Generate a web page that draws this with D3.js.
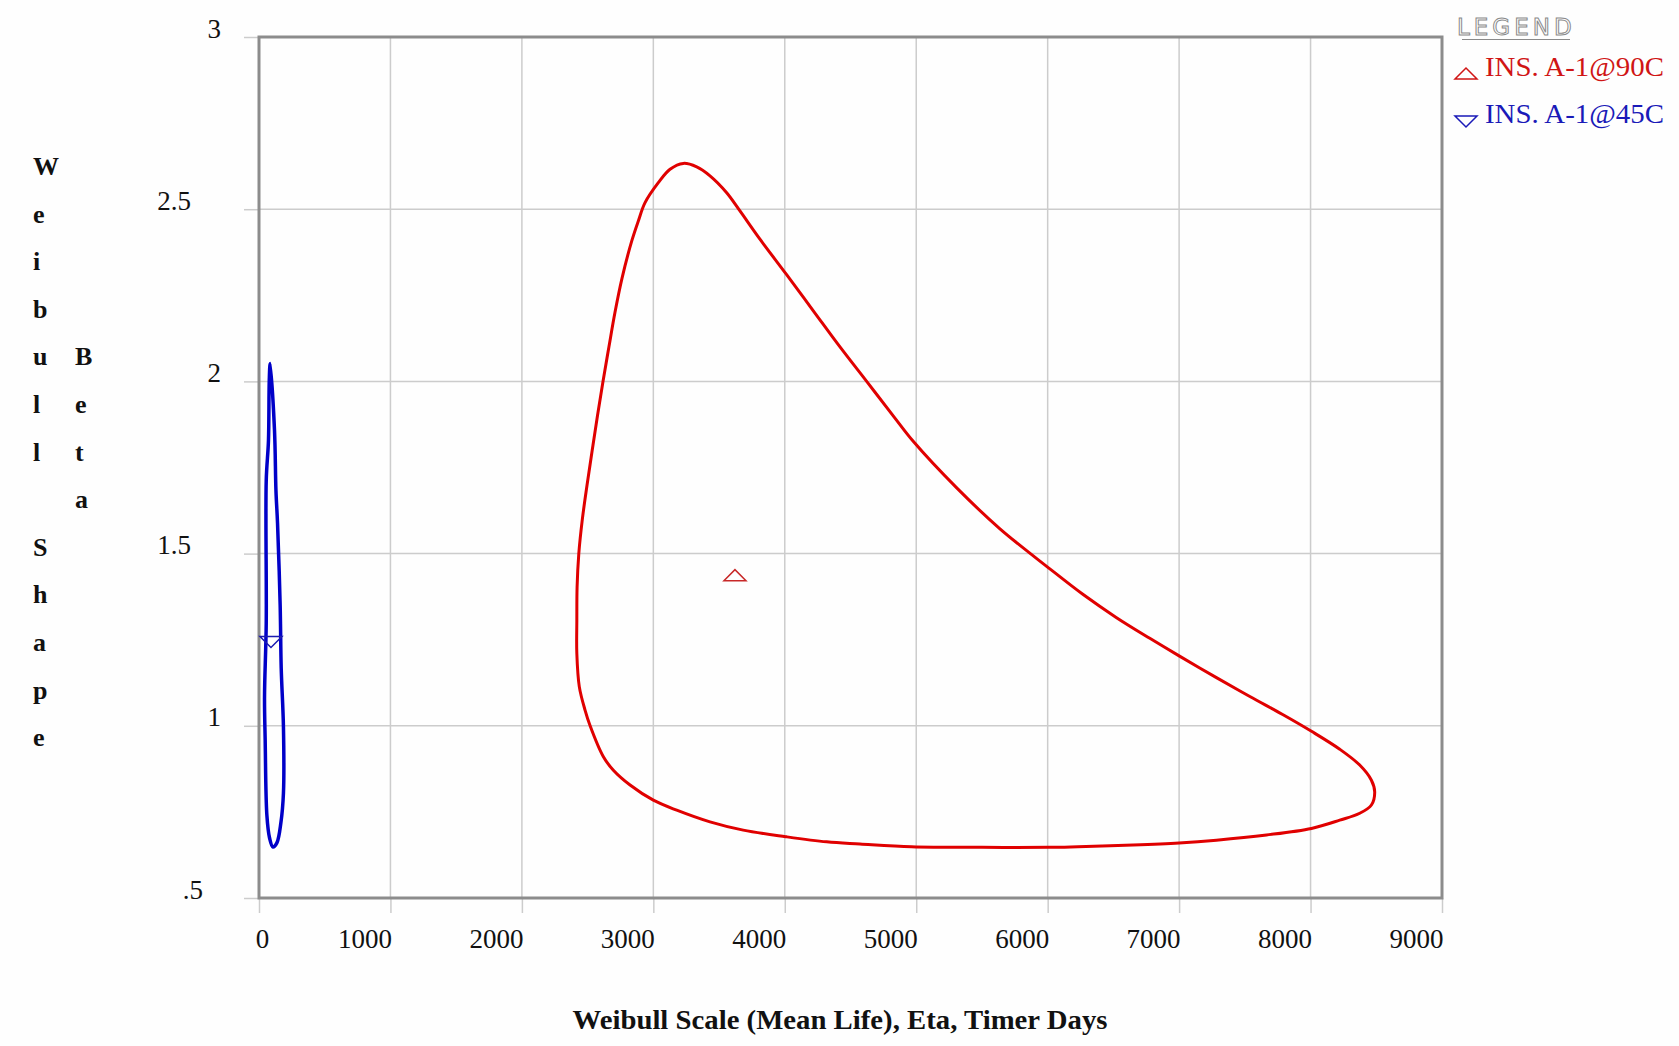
<!DOCTYPE html>
<html>
<head>
<meta charset="utf-8">
<script src="https://cdn.jsdelivr.net/npm/d3@7"></script>
<style>
  body { margin: 0; background: #fff; }
  text { font-family: "Liberation Serif", "Times New Roman", serif; }
</style>
</head>
<body>
<div id="chart"></div>
<script>
// axis ticks
const xTicks = [0, 1000, 2000, 3000, 4000, 5000, 6000, 7000, 8000, 9000];
const yTicks = [0.5, 1, 1.5, 2, 2.5, 3];
const yTickLabels = ['.5', '1', '1.5', '2', '2.5', '3'];

const seriesNames = ['INS. A-1@90C', 'INS. A-1@45C'];

// contour for 90C (eta, beta), read clockwise from the top
const hotEta = [3228, 3330, 3431, 3558, 3659, 3811, 4014, 4217, 4420, 4623, 4825, 4977, 5310,
  5637, 6009, 6270, 6524, 6777, 7000, 7284, 7538, 7791, 8007, 8222, 8374, 8463, 8488, 8463,
  8374, 8222, 8007, 7665, 7284, 7000, 6650, 6230, 6009, 5500, 4965, 4572, 4319, 4007, 3684,
  3431, 3178, 3000, 2823, 2696, 2620, 2519, 2481, 2437, 2418, 2418, 2420, 2433, 2460, 2496,
  2535, 2575, 2617, 2662, 2708, 2762, 2836, 2886, 2937, 3038, 3127];
const hotBeta = [2.633, 2.623, 2.597, 2.548, 2.495, 2.413, 2.310, 2.205, 2.100, 2.000, 1.900, 1.826, 1.690,
  1.572, 1.458, 1.381, 1.314, 1.254, 1.203, 1.140, 1.085, 1.032, 0.984, 0.932, 0.886, 0.842, 0.808, 0.770,
  0.746, 0.726, 0.702, 0.683, 0.668, 0.660, 0.654, 0.649, 0.647, 0.647, 0.649, 0.657, 0.663, 0.678, 0.697,
  0.721, 0.755, 0.784, 0.828, 0.871, 0.910, 1.000, 1.045, 1.113, 1.210, 1.306, 1.403, 1.500, 1.600, 1.700,
  1.800, 1.900, 2.000, 2.100, 2.200, 2.300, 2.408, 2.466, 2.519, 2.577, 2.616];

// contour for 45C
const coldEta = [85, 118, 129, 141, 161, 169, 186, 186, 167, 136, 106, 80, 60, 47, 42, 55, 55, 72, 78];
const coldBeta = [2.052, 1.857, 1.683, 1.588, 1.350, 1.167, 0.996, 0.805, 0.720, 0.660, 0.648, 0.675,
  0.740, 0.958, 1.083, 1.298, 1.712, 1.828, 2.002];

// point estimates
const pointEta = [3621, 91];
const pointBeta = [1.436, 1.245];

const yTitleLeft = 'Weibull Shape';
const yTitleRight = 'Beta';

let svgWidth = 1679, svgHeight = 1046,
  plotLeft = 259, plotRight = 1442,
  plotTop = 37, plotBottom = 898,
  red = '#e00000', blue = '#0000c8',
  gridColor = '#cccccc', frameColor = '#8c8c8c';

const svg = d3.select('#chart')
  .append('svg')
  .attr('width', svgWidth)
  .attr('height', svgHeight);

svg.append('rect')
  .attr('width', svgWidth)
  .attr('height', svgHeight)
  .attr('fill', '#fefefe');

const x = d3.scaleLinear().domain([0, 9000]).range([plotLeft, plotRight]);
const y = d3.scaleLinear().domain([0.5, 3]).range([plotBottom, plotTop]);

// grid lines
svg.append('g')
  .selectAll('line')
  .data(xTicks.slice(1, -1))
  .join('line')
  .attr('x1', d => x(d)).attr('x2', d => x(d))
  .attr('y1', plotTop).attr('y2', plotBottom)
  .attr('stroke', gridColor).attr('stroke-width', 1.5);

svg.append('g')
  .selectAll('line')
  .data(yTicks.slice(1, -1))
  .join('line')
  .attr('x1', plotLeft).attr('x2', plotRight)
  .attr('y1', d => y(d)).attr('y2', d => y(d))
  .attr('stroke', gridColor).attr('stroke-width', 1.5);

// x axis
const xAxis = svg.append('g')
  .attr('transform', `translate(0, ${plotBottom})`)
  .call(d3.axisBottom(x).tickValues(xTicks).tickSize(15).tickFormat(d => String(d)));
xAxis.select('.domain').remove();
xAxis.selectAll('line').attr('stroke', gridColor).attr('stroke-width', 1.5);
xAxis.selectAll('text')
  .attr('font-size', 27)
  .attr('fill', '#111')
  .attr('dy', null)
  .attr('y', 50)
  .attr('text-anchor', d => d === 0 ? 'middle' : 'end')
  .attr('x', d => d === 0 ? 3 : 1);

// y axis
const yAxis = svg.append('g')
  .attr('transform', `translate(${plotLeft}, 0)`)
  .call(d3.axisLeft(y).tickValues(yTicks).tickSize(15).tickFormat((d, i) => yTickLabels[i]));
yAxis.select('.domain').remove();
yAxis.selectAll('line').attr('stroke', gridColor).attr('stroke-width', 1.5);
yAxis.selectAll('text')
  .attr('font-size', 27)
  .attr('fill', '#111')
  .attr('dy', null)
  .attr('y', 0)
  .attr('text-anchor', 'end')
  .attr('x', (d, i) => {
    const s = yTickLabels[i];
    if (s[0] === '.') return -56;
    return s.includes('.') ? -68 : -38;
  });

// plot frame
svg.append('rect')
  .attr('x', plotLeft).attr('y', plotTop)
  .attr('width', plotRight - plotLeft).attr('height', plotBottom - plotTop)
  .attr('fill', 'none')
  .attr('stroke', frameColor)
  .attr('stroke-width', 3);

// contours
const contour = d3.line()
  .x(d => x(d[0]))
  .y(d => y(d[1]))
  .curve(d3.curveCatmullRomClosed);

svg.append('path')
  .datum(hotEta.map((e, i) => [e, hotBeta[i]]))
  .attr('d', contour)
  .attr('fill', 'none')
  .attr('stroke', red)
  .attr('stroke-width', 3);

svg.append('path')
  .datum(coldEta.map((e, i) => [e, coldBeta[i]]))
  .attr('d', contour)
  .attr('fill', 'none')
  .attr('stroke', blue)
  .attr('stroke-width', 3.5);

// point estimate markers
const upTri = 'M-11,5L11,5L0,-6Z';
const downTri = 'M-11,-5L11,-5L0,6Z';

svg.append('path')
  .attr('d', upTri)
  .attr('transform', `translate(${x(pointEta[0])}, ${y(pointBeta[0])})`)
  .attr('fill', 'none')
  .attr('stroke', '#c82828')
  .attr('stroke-width', 1.5);

svg.append('path')
  .attr('d', downTri)
  .attr('transform', `translate(${x(pointEta[1])}, ${y(pointBeta[1])})`)
  .attr('fill', 'none')
  .attr('stroke', '#1a1ab0')
  .attr('stroke-width', 1.5);

// axis titles
svg.append('text')
  .attr('x', 840)
  .attr('y', 1029)
  .attr('text-anchor', 'middle')
  .attr('font-size', 27)
  .attr('font-weight', 'bold')
  .attr('fill', '#111')
  .attr('textLength', 535)
  .attr('lengthAdjust', 'spacingAndGlyphs')
  .text('Weibull Scale (Mean Life), Eta, Timer Days');

svg.append('g')
  .selectAll('text')
  .data(yTitleLeft.split(''))
  .join('text')
  .attr('x', 33)
  .attr('y', (d, i) => 175 + i * 47.6)
  .attr('font-size', 26)
  .attr('font-weight', 'bold')
  .attr('fill', '#111')
  .text(d => d);

svg.append('g')
  .selectAll('text')
  .data(yTitleRight.split(''))
  .join('text')
  .attr('x', 75)
  .attr('y', (d, i) => 175 + (i + 4) * 47.6)
  .attr('font-size', 26)
  .attr('font-weight', 'bold')
  .attr('fill', '#111')
  .text(d => d);

// legend
const legend = svg.append('g');
legend.append('text')
  .attr('x', 1457)
  .attr('y', 35)
  .style('font-family', '"DejaVu Sans", sans-serif')
  .attr('font-size', 23)
  .attr('letter-spacing', 4)
  .attr('fill', '#fff')
  .attr('stroke', '#8a8a8a')
  .attr('stroke-width', 1)
  .text('LEGEND');
legend.append('line')
  .attr('x1', 1462).attr('x2', 1570)
  .attr('y1', 39.5).attr('y2', 39.5)
  .attr('stroke', '#8a8a8a').attr('stroke-width', 1.2);

const legendColors = ['#d01515', '#1a1ab8'];
const legendShapes = [upTri, downTri];
seriesNames.forEach((name, i) => {
  const cy = 73 + i * 47;
  legend.append('path')
    .attr('d', legendShapes[i])
    .attr('transform', `translate(1466, ${cy + 1})`)
    .attr('fill', 'none')
    .attr('stroke', legendColors[i])
    .attr('stroke-width', 1.5);
  legend.append('text')
    .attr('x', 1485)
    .attr('y', cy + 3)
    .attr('font-size', 28)
    .attr('textLength', 179)
    .attr('lengthAdjust', 'spacingAndGlyphs')
    .attr('fill', legendColors[i])
    .text(name);
});
</script>
</body>
</html>
